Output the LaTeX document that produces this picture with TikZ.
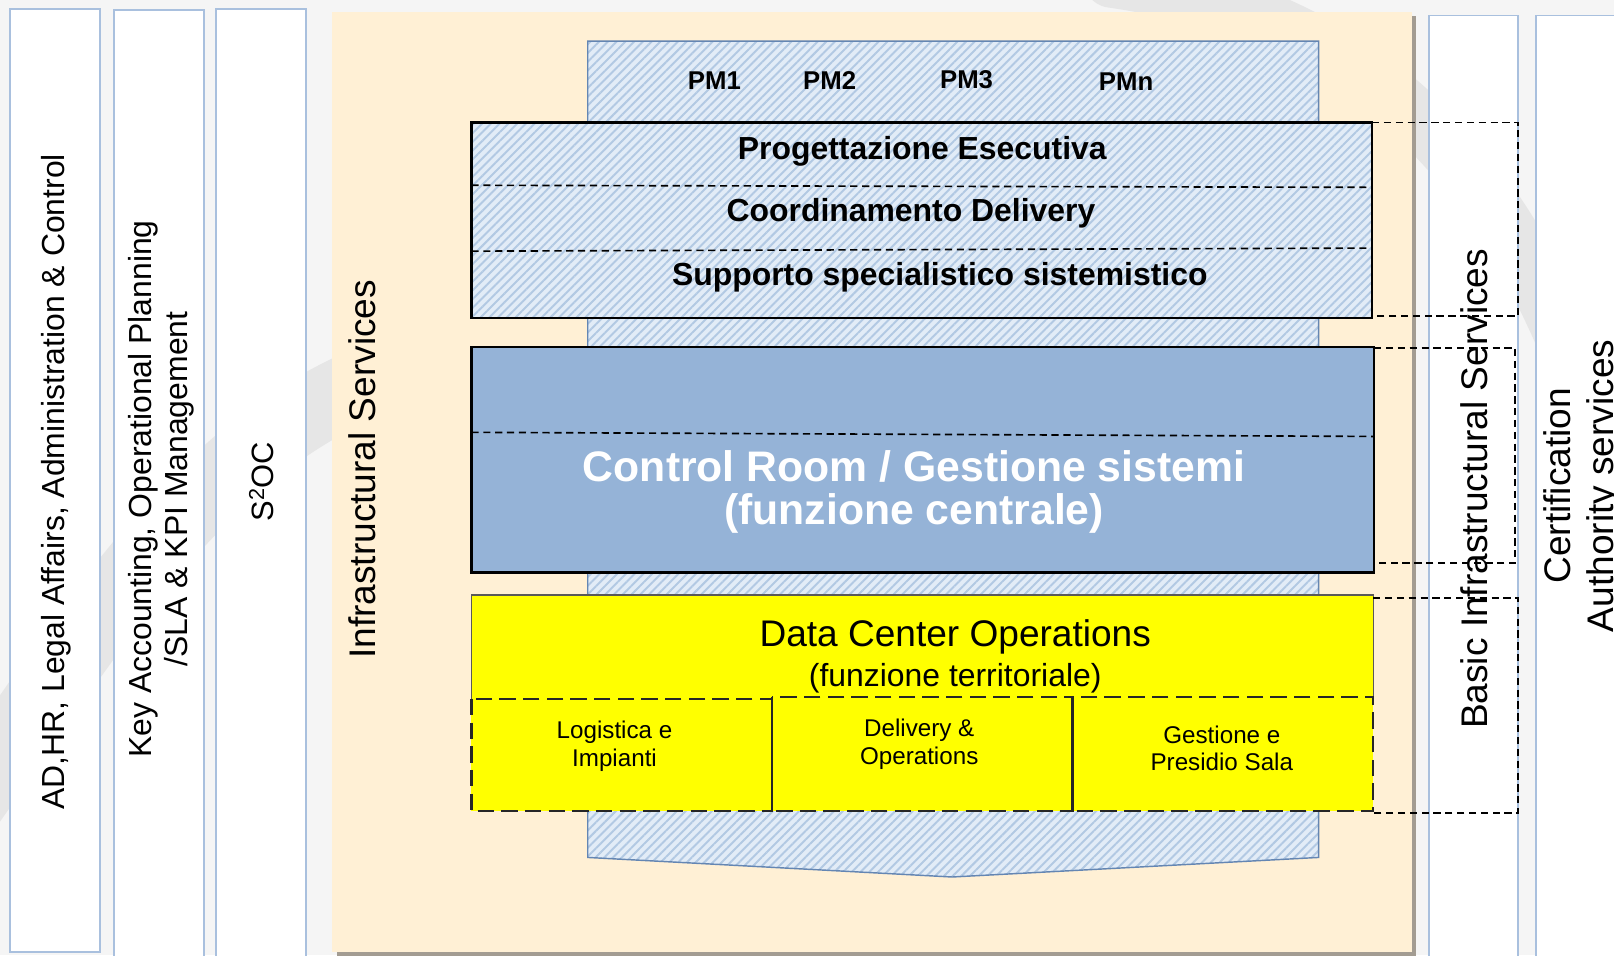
\documentclass[tikz,border=0pt]{standalone}
\usepackage{fontspec}
\setmainfont{Liberation Sans}
\usetikzlibrary{patterns.meta}
\definecolor{bg}{HTML}{F5F5F5}
\definecolor{swoosh}{HTML}{E6E6E6}
\definecolor{colborder}{HTML}{A9C0DE}
\definecolor{cream}{HTML}{FFF0D5}
\definecolor{shadowc}{HTML}{A39C92}
\definecolor{hatchbg}{HTML}{E2ECF7}
\definecolor{hatchline}{HTML}{B2C9E3}
\definecolor{arrowborder}{HTML}{6486B3}
\definecolor{crblue}{HTML}{95B3D7}
\definecolor{dcyellow}{HTML}{FFFF00}
\begin{document}
\begin{tikzpicture}[x=1pt,y=-1pt,
  colbox/.style={draw=colborder, line width=1.8pt, fill=white},
  vtext/.style={rotate=90, align=center, inner sep=0pt},
  hatch/.style={fill=hatchbg, postaction={pattern={Lines[angle=45,distance=6pt,line width=1.9pt]}, pattern color=hatchline}},
  sep/.style={dash pattern=on 7pt off 4.5pt, line width=1.6pt},
  ext/.style={dash pattern=on 7pt off 4.5pt, line width=1.6pt},
  sub/.style={dash pattern=on 16pt off 7pt, line width=2.2pt, draw=black!85},
  pmtext/.style={font=\fontsize{25}{29}\selectfont\bfseries, inner sep=0pt},
  btext/.style={font=\fontsize{31}{35}\selectfont\bfseries, inner sep=0pt},
  subtext/.style={font=\fontsize{23.5}{27}\selectfont, align=center, inner sep=0pt},
]
\useasboundingbox (0,0) rectangle (1568,928);
\fill[bg] (0,0) rectangle (1568,928);
% faint background swooshes
\draw[swoosh, line width=70pt, line cap=round] (-30,780) .. controls (90,610) and (190,440) .. (360,370);
\draw[swoosh, line width=55pt, line cap=round] (1080,-20) .. controls (1290,10) and (1430,120) .. (1520,330);

% side columns
\draw[colbox] (10,9) rectangle (97,925);
\draw[colbox] (111,10) rectangle (198,935);
\draw[colbox] (210,9) rectangle (297,935);
\draw[colbox] (1388,15) rectangle (1475,935);
\draw[colbox] (1492,15) rectangle (1600,935);

% infrastructural panel with shadow
\fill[shadowc] (327,16) rectangle (1376,929);
\fill[cream] (323,12) rectangle (1372,925);

% big arrow
\path[hatch] (571,40) -- (1281,40) -- (1281,833) -- (925,852) -- (571,833) -- cycle;
\draw[arrowborder, line width=1.4pt] (571,40) -- (1281,40) -- (1281,833) -- (925,852) -- (571,833) -- cycle;

% Progettazione block
\path[hatch] (458,119) rectangle (1333,309);
\draw[black, line width=2.4pt] (458,119) rectangle (1333,309);
\draw[sep] (458,180) -- (1333,182);
\draw[sep] (458,244) -- (1333,241);
\draw[ext] (1333,119) -- (1475,119) -- (1475,307) -- (1333,307);

% Control room block
\draw[fill=crblue, draw=black, line width=2.4pt] (458,337) rectangle (1335,556);
\draw[sep] (458,420) -- (1335,424);
\draw[ext] (1335,338) -- (1472,338) -- (1472,547) -- (1335,547);

% Data center block
\fill[dcyellow] (458,578) rectangle (1334,788);
\draw[black!65, line width=1.1pt] (458,679) -- (458,578) -- (1334,578) -- (1334,677);
\draw[sub] (458,679) rectangle (750,788);
\draw[sub] (750,677) rectangle (1042,788);
\draw[sub] (1042,677) rectangle (1334,788);
\draw[ext] (1334,581) -- (1475,581) -- (1475,790) -- (1334,790);

% texts
\node[vtext, font=\fontsize{31}{36}\selectfont] (t1) at (55,468) {AD,HR, Legal Affairs,\ Administration \& Control};
\node[vtext, font=\fontsize{31}{35}\selectfont] (t2) at (157,475) {Key Accounting, Operational Planning\\/SLA \& KPI Management};
\node[vtext, font=\fontsize{30}{34}\selectfont] (t3) at (254,468) {S\textsuperscript{2}OC};
\node[vtext, font=\fontsize{36}{40}\selectfont] (t4) at (352,456) {Infrastructural Services};
\node[vtext, font=\fontsize{36}{40}\selectfont] (t5) at (1432,475) {Basic Infrastructural Services};
\node[vtext, font=\fontsize{36}{42}\selectfont] (t6) at (1537,472) {Certification\\Authority services};

\node[pmtext] (pm1) at (694,78) {PM1};
\node[pmtext] (pm2) at (806,78) {PM2};
\node[pmtext] (pm3) at (939,77) {PM3};
\node[pmtext] (pmn) at (1094,79) {PMn};

\node[btext] (prog) at (896,147) {Progettazione Esecutiva};
\node[btext] (coord) at (885,207) {Coordinamento Delivery};
\node[btext] (supp) at (913,269) {Supporto specialistico sistemistico};

\node[font=\fontsize{41.5}{41}\selectfont\bfseries, text=white, align=center, inner sep=0pt] (cr) at (888,478) {Control Room / Gestione sistemi\\(funzione centrale)};

\node[font=\fontsize{36}{40}\selectfont, inner sep=0pt] (dc) at (928,619) {Data Center Operations};
\node[font=\fontsize{31}{34}\selectfont, inner sep=0pt] (dcf) at (928,659) {(funzione territoriale)};

\node[subtext] (log) at (597,725) {Logistica e\\Impianti};
\node[subtext] (del) at (893,723) {Delivery \&\\Operations};
\node[subtext] (ges) at (1187,727) {Gestione e\\Presidio Sala};
\end{tikzpicture}
\end{document}
